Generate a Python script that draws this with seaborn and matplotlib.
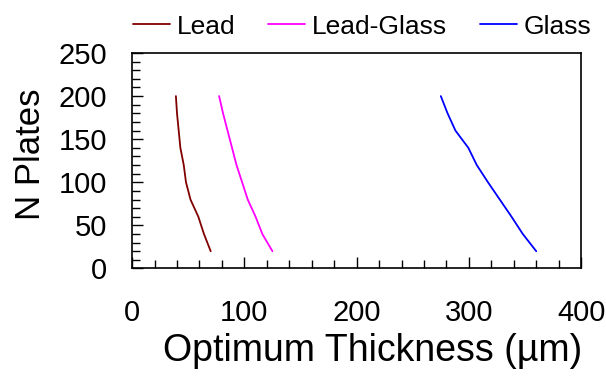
import matplotlib
matplotlib.use("Agg")
import matplotlib.pyplot as plt
import seaborn as sns
import pandas as pd
from matplotlib.ticker import MultipleLocator

plates = [20, 40, 60, 80, 100, 120, 140, 160, 180, 200]
lead = [70, 64, 59, 52, 48, 46, 43, 41.5, 40, 39]
lead_glass = [125, 116, 110, 103, 98, 93, 89, 85, 81, 77.5]
glass = [360, 348, 338, 327.5, 317, 307, 299.5, 288, 281, 275]
series_names = ["Lead", "Lead-Glass", "Glass"]
colors = ["#800000", "#FF00FF", "#0000FF"]

rows = []
for name, vals in zip(series_names, [lead, lead_glass, glass]):
    for n, t in zip(plates, vals):
        rows.append({"Thickness": t, "Plates": n, "Material": name})
df = pd.DataFrame(rows)

sns.set_style("white")
plt.rcParams["font.family"] = ["Liberation Sans", "DejaVu Sans"]
plt.rcParams["text.color"] = "black"
plt.rcParams["axes.labelcolor"] = "black"

fig = plt.figure(figsize=(6.06, 3.76), dpi=100)
ax = fig.add_axes([0.218, 0.286, 0.741, 0.573])

sns.lineplot(data=df, x="Thickness", y="Plates", hue="Material",
             palette=dict(zip(series_names, colors)), hue_order=series_names,
             sort=False, estimator=None, linewidth=1.3, ax=ax)

ax.set_xlim(0, 400)
ax.set_ylim(0, 250)
ax.xaxis.set_major_locator(MultipleLocator(100))
ax.xaxis.set_minor_locator(MultipleLocator(20))
ax.yaxis.set_major_locator(MultipleLocator(50))
ax.yaxis.set_minor_locator(MultipleLocator(10))
ax.tick_params(axis="both", which="both", direction="in", colors="black",
               bottom=True, left=True, top=False, right=False, labelsize=21)
ax.tick_params(axis="both", which="major", length=8, width=1)
ax.tick_params(axis="both", which="minor", length=6, width=1)
ax.tick_params(axis="x", which="major", pad=22)
ax.tick_params(axis="y", which="major", pad=18)
for s in ax.spines.values():
    s.set_visible(True)
    s.set_color("black")
    s.set_linewidth(1.2)

ax.set_xlabel("Optimum Thickness (µm)", fontsize=27)
ax.set_ylabel("N Plates", fontsize=25)
ax.xaxis.set_label_coords(0.535, -0.30)
ax.yaxis.set_label_coords(-0.19, 0.53)

leg = ax.legend(ncol=3, loc="lower center", bbox_to_anchor=(0.512, 1.0),
                frameon=False, fontsize=19, handlelength=1.4,
                handletextpad=0.25, columnspacing=1.25, borderaxespad=0.15)
for line in leg.get_lines():
    line.set_linewidth(1.3)

fig.savefig("out.png", dpi=100)
